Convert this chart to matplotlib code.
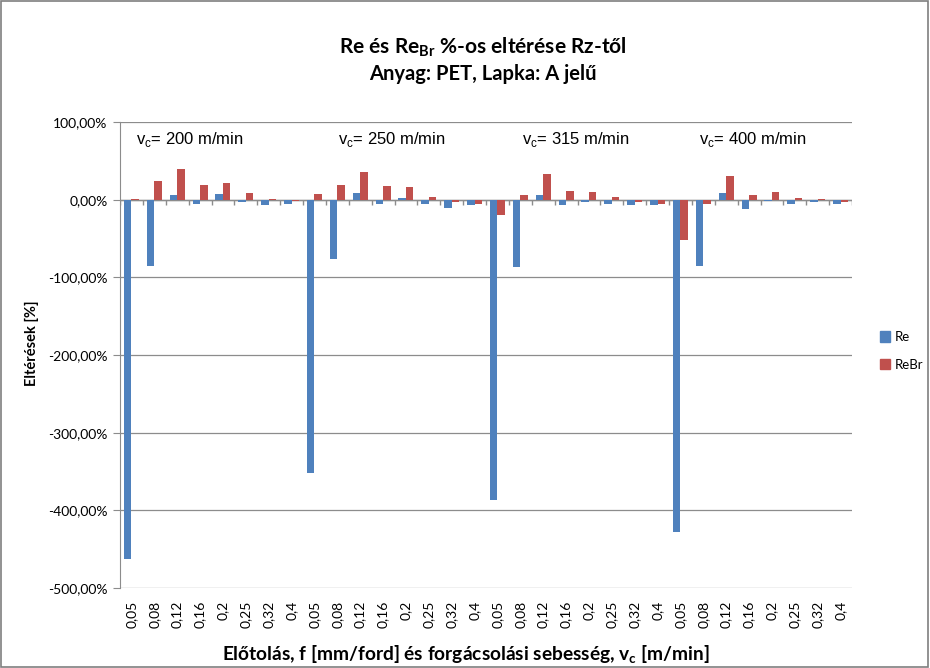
import numpy as np
import matplotlib
matplotlib.use("Agg")
import matplotlib.pyplot as plt
from matplotlib.patches import Rectangle, Patch

# feed values per cutting speed, repeated for each group
feeds = ["0,05", "0,08", "0,12", "0,16", "0,2", "0,25", "0,32", "0,4"]
speeds = [200, 250, 315, 400]

re_200 = [-463, -86, 5.6, -6, 7, -3.4, -7, -6]
re_250 = [-352, -77, 8, -5, 2, -6, -11, -7]
re_315 = [-387, -87, 5.6, -7, -3.4, -5, -7, -7]
re_400 = [-428, -86, 8, -12, -2, -6, -3.4, -6]

rebr_200 = [1.3, 23.6, 39, 18.5, 21, 8, 0.3, -2]
rebr_250 = [7, 18.5, 36, 17, 16, 3, -3.4, -5]
rebr_315 = [-20, 5.6, 33, 11, 9.5, 3, -3.4, -5]
rebr_400 = [-52, -5, 30, 5.6, 9.5, 2, 0.3, -3.4]

re_vals = np.array(re_200 + re_250 + re_315 + re_400)
rebr_vals = np.array(rebr_200 + rebr_250 + rebr_315 + rebr_400)
labels = feeds * len(speeds)

BLUE = "#4F81BD"
RED = "#C0504D"
GRID = "#8C8C8C"

plt.rcParams["font.family"] = ["Lato", "DejaVu Sans"]
plt.rcParams["mathtext.fontset"] = "custom"
plt.rcParams["mathtext.rm"] = "Lato"
plt.rcParams["mathtext.bf"] = "Lato:bold"

fig = plt.figure(figsize=(9.30, 6.68), dpi=100)
W, H = 930, 668
ax = fig.add_axes([120 / W, (H - 588) / H, (852 - 120) / W, (588 - 122) / H])

x = np.arange(len(labels))
bw = 0.33
ax.bar(x - bw / 2, re_vals, bw, color=BLUE, zorder=3)
ax.bar(x + bw / 2, rebr_vals, bw, color=RED, zorder=3)

ax.set_ylim(-500, 100)
ax.set_xlim(-0.5, len(labels) - 0.5)
ax.set_yticks(np.arange(-500, 101, 100))
ax.set_yticklabels([f"{v},00%" for v in range(-500, 101, 100)], fontsize=10)
ax.yaxis.grid(True, color=GRID, linewidth=0.9, zorder=0)
ax.tick_params(axis="y", length=5, color=GRID, pad=4)

ax.set_xticks(x)
ax.set_xticklabels(labels, rotation=90, fontsize=10)
ax.tick_params(axis="x", length=0, pad=9)

for s in ["top", "right", "bottom"]:
    ax.spines[s].set_visible(False)
ax.spines["left"].set_color(GRID)

# category axis drawn on the zero line with short ticks between categories
ax.axhline(0, color=GRID, linewidth=1.0, zorder=2)
ax.vlines(np.arange(-0.5, len(labels)), -6.5, 0, color=GRID, linewidth=1.0, zorder=2)

# speed labels, left edge in category units
label_x = [0.2, 9.03, 17.07, 24.81]
for lx, v in zip(label_x, speeds):
    ax.text(lx, 77, r"v$_\mathregular{c}$= %d m/min" % v,
            ha="left", va="center", fontsize=12, family="Liberation Sans")

fig.text(483 / W, 1 - 47 / H, r"Re és Re$_{\mathbf{Br}}$ %-os eltérése Rz-től",
         ha="center", va="center", fontsize=15, fontweight="bold")
fig.text(483 / W, 1 - 74 / H, "Anyag: PET, Lapka: A jelű",
         ha="center", va="center", fontsize=14.5, fontweight="bold")
fig.text(32 / W, 1 - 343 / H, "Eltérések [%]", rotation=90,
         ha="center", va="center", fontsize=10.5, fontweight="bold")
fig.text(466 / W, 1 - 655 / H,
         r"Előtolás, f [mm/ford] és forgácsolási sebesség, v$_\mathregular{c}$ [m/min]",
         ha="center", va="center", fontsize=13.8, fontweight="bold")

handles = [Patch(color=BLUE, label="Re"), Patch(color=RED, label="ReBr")]
fig.legend(handles=handles, loc="center left", bbox_to_anchor=(868 / W, 1 - 351 / H),
           frameon=False, fontsize=9.5, handlelength=0.8, handleheight=0.8,
           handletextpad=0.35, labelspacing=1.2)

fig.patches.append(Rectangle((0.001, 0.001), 0.997, 0.997, transform=fig.transFigure,
                             fill=False, edgecolor="#7F7F7F", linewidth=1.2))

fig.savefig("out.png", dpi=100)
